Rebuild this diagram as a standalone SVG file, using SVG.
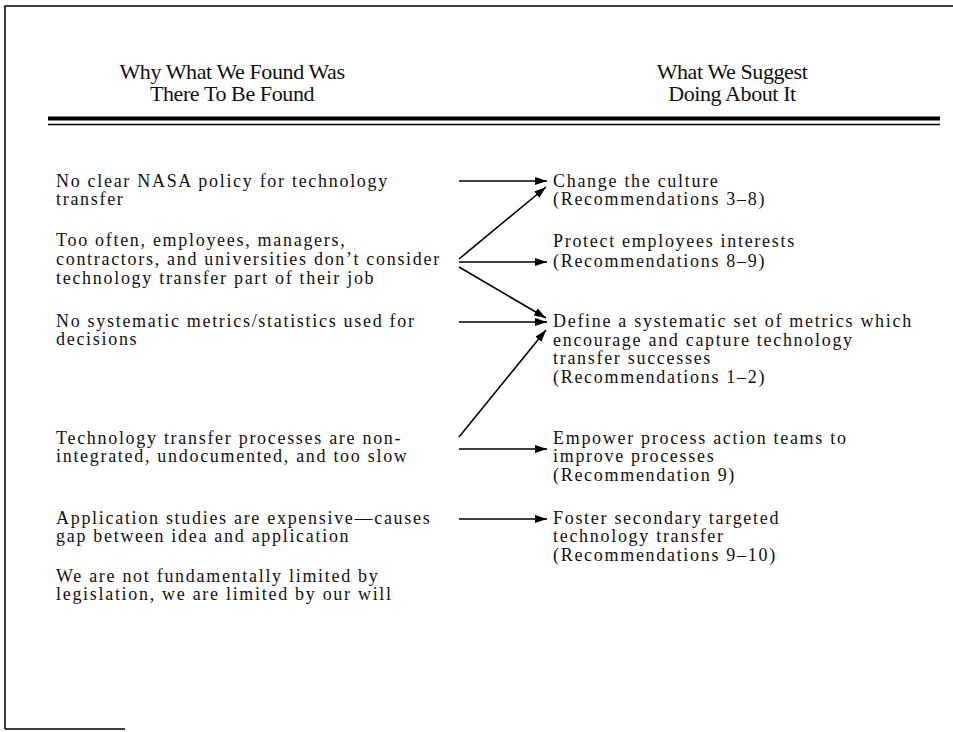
<svg xmlns="http://www.w3.org/2000/svg" width="953" height="732" viewBox="0 0 953 732">
<defs>
<marker id="ah" viewBox="0 0 12 8" refX="12" refY="4" markerWidth="12" markerHeight="8" markerUnits="userSpaceOnUse" orient="auto">
<path d="M0,0 L12,4 L0,8 Z" fill="#000"/>
</marker>
<style>
.t{font-family:"Liberation Serif","Times New Roman",serif;font-size:18px;letter-spacing:1.7px;fill:#111}
.h{font-family:"Liberation Serif","Times New Roman",serif;font-size:22px;letter-spacing:-0.4px;fill:#111;text-anchor:middle}
.c{stroke:#000;stroke-width:1.6;fill:none;marker-end:url(#ah)}
.f{stroke:#000;stroke-width:1.5;fill:none}
</style>
</defs>
<rect width="953" height="732" fill="#fff"/>
<g id="frame">
<path class="f" d="M5,729 V6 H953"/>
<path class="f" d="M5,729 H125"/>
<line x1="48" y1="118.5" x2="940" y2="118.5" stroke="#000" stroke-width="4"/>
<line x1="48" y1="124.5" x2="940" y2="124.5" stroke="#000" stroke-width="1.5"/>
</g>
<g id="header-left"><text class="h" x="232" y="79">Why What We Found Was</text><text class="h" x="232" y="101">There To Be Found</text></g>
<g id="header-right"><text class="h" x="732" y="79">What We Suggest</text><text class="h" x="732" y="101">Doing About It</text></g>

<g id="cause1"><text class="t" x="56" y="187">No clear NASA policy for technology</text><text class="t" x="56" y="205">transfer</text></g>
<g id="cause2"><text class="t" x="56" y="246">Too often, employees, managers,</text><text class="t" x="56" y="265">contractors, and universities don’t consider</text><text class="t" x="56" y="284">technology transfer part of their job</text></g>
<g id="cause3"><text class="t" x="56" y="327">No systematic metrics/statistics used for</text><text class="t" x="56" y="345">decisions</text></g>
<g id="cause4"><text class="t" x="56" y="444">Technology transfer processes are non-</text><text class="t" x="56" y="462">integrated, undocumented, and too slow</text></g>
<g id="cause5"><text class="t" x="56" y="524">Application studies are expensive—causes</text><text class="t" x="56" y="542">gap between idea and application</text></g>
<g id="cause6"><text class="t" x="56" y="582">We are not fundamentally limited by</text><text class="t" x="56" y="600">legislation, we are limited by our will</text></g>

<g id="rec1"><text class="t" x="553" y="187">Change the culture</text><text class="t" x="553" y="205">(Recommendations 3–8)</text></g>
<g id="rec2"><text class="t" x="553" y="247">Protect employees interests</text><text class="t" x="553" y="267">(Recommendations 8–9)</text></g>
<g id="rec3"><text class="t" x="553" y="327">Define a systematic set of metrics which</text><text class="t" x="553" y="346">encourage and capture technology</text><text class="t" x="553" y="364">transfer successes</text><text class="t" x="553" y="383">(Recommendations 1–2)</text></g>
<g id="rec4"><text class="t" x="553" y="444">Empower process action teams to</text><text class="t" x="553" y="462">improve processes</text><text class="t" x="553" y="481">(Recommendation 9)</text></g>
<g id="rec5"><text class="t" x="553" y="524">Foster secondary targeted</text><text class="t" x="553" y="542">technology transfer</text><text class="t" x="553" y="561">(Recommendations 9–10)</text></g>

<g id="connectors">
<line class="c" x1="459" y1="181" x2="547" y2="181"/>
<line class="c" x1="459" y1="259" x2="546" y2="187"/>
<line class="c" x1="459" y1="262" x2="547" y2="262"/>
<line class="c" x1="459" y1="267" x2="546" y2="318"/>
<line class="c" x1="459" y1="322" x2="547" y2="322"/>
<line class="c" x1="459" y1="437" x2="546" y2="330"/>
<line class="c" x1="459" y1="449" x2="547" y2="449"/>
<line class="c" x1="459" y1="519" x2="547" y2="519"/>
</g>
</svg>
